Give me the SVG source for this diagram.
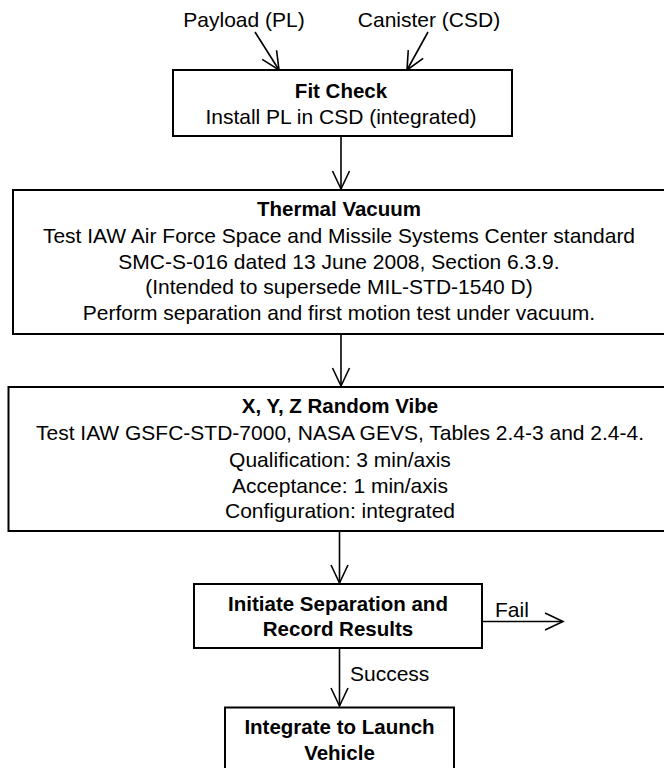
<svg xmlns="http://www.w3.org/2000/svg" width="664" height="768" viewBox="0 0 664 768">
<style>
.box{fill:#fff;stroke:#000;stroke-width:2}
.t{font-family:"Liberation Sans",Arial,sans-serif;font-size:21px;fill:#000;text-anchor:middle}
.b{font-family:"Liberation Sans",Arial,sans-serif;font-size:20.5px;font-weight:bold;fill:#000;text-anchor:middle}
.l{font-family:"Liberation Sans",Arial,sans-serif;font-size:21px;fill:#000}
.c{fill:none;stroke:#000;stroke-width:1.6}
</style>
<defs>
<marker id="v" markerUnits="userSpaceOnUse" markerWidth="24" markerHeight="24" viewBox="-22 -12 24 24" refX="0" refY="0" orient="auto" overflow="visible">
<path d="M-18,-8.5 L0,0 L-18,8.5" fill="none" stroke="#000" stroke-width="1.6"/>
</marker>
</defs>
<rect width="664" height="768" fill="#fff"/>
<g id="connectors">
<line class="c" x1="255" y1="32" x2="279" y2="70" marker-end="url(#v)"/>
<line class="c" x1="428" y1="32" x2="407" y2="70" marker-end="url(#v)"/>
<line class="c" x1="341" y1="137" x2="341" y2="189" marker-end="url(#v)"/>
<line class="c" x1="341" y1="335" x2="341" y2="386" marker-end="url(#v)"/>
<line class="c" x1="339.5" y1="531" x2="339.5" y2="583" marker-end="url(#v)"/>
<line class="c" x1="339.5" y1="649" x2="339.5" y2="706" marker-end="url(#v)"/>
<line class="c" x1="483" y1="621.5" x2="563" y2="621.5" marker-end="url(#v)"/>
<text class="l" x="495" y="617">Fail</text>
<text class="l" x="350" y="681">Success</text>
</g>
<g id="payload"><text class="t" x="244" y="27">Payload (PL)</text></g>
<g id="canister"><text class="t" x="429" y="27">Canister (CSD)</text></g>
<g id="fitcheck">
<rect class="box" x="173" y="70" width="339" height="66"/>
<text class="b" x="341" y="98">Fit Check</text>
<text class="t" x="341" y="124">Install PL in CSD (integrated)</text>
</g>
<g id="thermal">
<rect class="box" x="13" y="190" width="665" height="144"/>
<text class="b" x="339" y="216">Thermal Vacuum</text>
<text class="t" x="339" y="242.5">Test IAW Air Force Space and Missile Systems Center standard</text>
<text class="t" x="339" y="268.5">SMC-S-016 dated 13 June 2008, Section 6.3.9.</text>
<text class="t" x="339" y="294">(Intended to supersede MIL-STD-1540 D)</text>
<text class="t" x="339" y="319.5">Perform separation and first motion test under vacuum.</text>
</g>
<g id="vibe">
<rect class="box" x="8.5" y="387" width="670" height="144"/>
<text class="b" x="340" y="413">X, Y, Z Random Vibe</text>
<text class="t" x="340" y="440">Test IAW GSFC-STD-7000, NASA GEVS, Tables 2.4-3 and 2.4-4.</text>
<text class="t" x="340" y="466.5">Qualification: 3 min/axis</text>
<text class="t" x="340" y="492.5">Acceptance: 1 min/axis</text>
<text class="t" x="340" y="518">Configuration: integrated</text>
</g>
<g id="separation">
<rect class="box" x="194" y="584" width="288" height="64"/>
<text class="b" x="338" y="611">Initiate Separation and</text>
<text class="b" x="338" y="636">Record Results</text>
</g>
<g id="integrate">
<rect class="box" x="225" y="707.5" width="229" height="70"/>
<text class="b" x="339.5" y="734">Integrate to Launch</text>
<text class="b" x="339.5" y="760">Vehicle</text>
</g>
</svg>
